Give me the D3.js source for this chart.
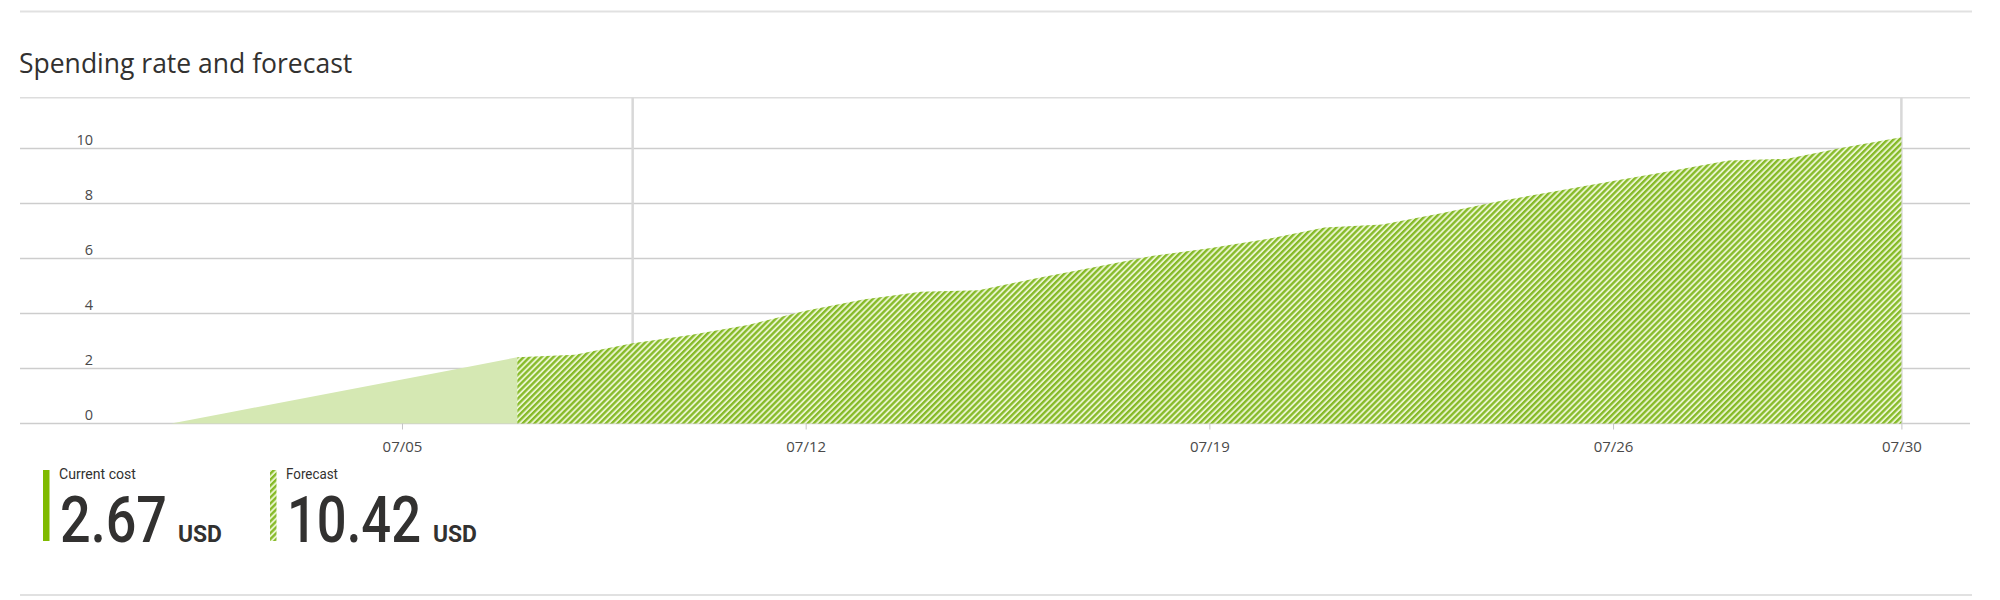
<!DOCTYPE html>
<html>
<head>
<meta charset="utf-8">
<script src="https://cdn.jsdelivr.net/npm/d3@7"></script>
<style>
  html, body { margin: 0; padding: 0; background: #ffffff; }
  svg { display: block; font-family: "Open Sans", "Noto Sans", sans-serif; }
</style>
</head>
<body>
<svg id="chart" width="2000" height="600"></svg>
<script>
// ---- data ----
const title = "Spending rate and forecast";
const currentDays = [1, 2, 3, 4, 5, 6, 7];
const currentCost = [0, 0.40, 0.80, 1.20, 1.60, 2.00, 2.41];
const forecastDays = [7, 8, 9, 10, 11, 12, 13, 14, 15, 16, 17, 18, 19, 20, 21, 22, 23, 24, 25, 26, 27, 28, 29, 30, 31];
const forecastCost = [2.41, 2.50, 2.92, 3.22, 3.58, 4.10, 4.51, 4.79, 4.85, 5.28, 5.68, 6.09, 6.37, 6.71, 7.13, 7.24, 7.64, 8.07, 8.45, 8.82, 9.18, 9.56, 9.62, 10.04, 10.41];
const yTicks = [0, 2, 4, 6, 8, 10];
const xTickDays = [5, 12, 19, 26, 31];
const xTickLabels = ["07/05", "07/12", "07/19", "07/26", "07/30"];
const markerDays = [9, 31];
const legendLabels = ["Current cost", "Forecast"];
const legendValues = ["2.67", "10.42"];
const legendUnit = "USD";

// ---- layout ----
const svg = d3.select("#chart");
const gridLeft = 20, gridRight = 1970;
const plotTop = 97.7, plotBottom = 423.5;
const x = d3.scaleLinear().domain([1, 31]).range([171.3, 1901.4]);
const y = d3.scaleLinear().domain([0, 10]).range([plotBottom, 148.5]);

const textColor = "#323130";
const labelColor = "#4a4a4a";
const gridColor = "#cdcdcd";
const green = "#7fba00";
const lightGreen = "#d5e8b3";

// hatch pattern
const defs = svg.append("defs");
const pat = defs.append("pattern")
  .attr("id", "hatch")
  .attr("patternUnits", "userSpaceOnUse")
  .attr("width", 4.2).attr("height", 10)
  .attr("patternTransform", "rotate(45)");
pat.append("rect").attr("width", 4.2).attr("height", 10).attr("fill", "#e8f4cc");
pat.append("rect").attr("width", 2.3).attr("height", 10).attr("fill", "#86ba28");

// separators
svg.append("line").attr("x1", gridLeft).attr("x2", gridRight + 2).attr("y1", 11.5).attr("y2", 11.5)
  .attr("stroke", "#e1e1e1").attr("stroke-width", 2);
svg.append("line").attr("x1", gridLeft).attr("x2", gridRight + 2).attr("y1", 595).attr("y2", 595)
  .attr("stroke", "#e1e1e1").attr("stroke-width", 2);

// title
svg.append("text").attr("x", 19).attr("y", 73).attr("font-size", 26.5)
  .attr("fill", textColor).text(title);

// top frame line
svg.append("line").attr("x1", gridLeft).attr("x2", gridRight).attr("y1", plotTop).attr("y2", plotTop)
  .attr("stroke", "#dddddd").attr("stroke-width", 1.6);

// horizontal gridlines
svg.append("g").selectAll("line").data(yTicks).join("line")
  .attr("x1", gridLeft).attr("x2", gridRight)
  .attr("y1", d => y(d)).attr("y2", d => y(d))
  .attr("stroke", gridColor).attr("stroke-width", 1.5);

// vertical marker lines
svg.append("g").selectAll("line").data(markerDays).join("line")
  .attr("x1", d => x(d)).attr("x2", d => x(d))
  .attr("y1", plotTop).attr("y2", plotBottom)
  .attr("stroke", "#d8d8d8").attr("stroke-width", 2.5);

// areas
const area = d3.area().x(d => x(d[0])).y0(y(0)).y1(d => y(d[1]));
svg.append("path")
  .datum(currentDays.map((d, i) => [d, currentCost[i]]))
  .attr("d", area).attr("fill", lightGreen);
svg.append("path")
  .datum(forecastDays.map((d, i) => [d, forecastCost[i]]))
  .attr("d", area).attr("fill", "url(#hatch)");

// y axis labels
const yAxis = d3.axisLeft(y).tickValues(yTicks).tickSize(0).tickPadding(0);
const gy = svg.append("g").attr("transform", "translate(93,0)").call(yAxis);
gy.select(".domain").remove();
gy.selectAll("text").attr("dy", "-4px").attr("font-size", 14.5)
  .attr("font-family", "'Open Sans', sans-serif").attr("fill", labelColor);

// x axis
const xAxis = d3.axisBottom(x).tickValues(xTickDays)
  .tickFormat((d, i) => xTickLabels[i]).tickSize(6).tickPadding(12);
const gx = svg.append("g").attr("transform", `translate(0,${plotBottom})`).call(xAxis);
gx.select(".domain").remove();
gx.selectAll(".tick line").attr("stroke", "#c4c4c4").attr("stroke-width", 1);
gx.selectAll("text").attr("font-size", 15)
  .attr("font-family", "'Open Sans', sans-serif").attr("fill", labelColor);

// legend: text condensed horizontally to the reference widths
function fitText(sel, tx, ty, target) {
  sel.each(function () {
    const t = d3.select(this);
    const w = this.getComputedTextLength();
    const s = target / w;
    t.attr("transform", `translate(${tx},${ty}) scale(${s},1)`);
  });
}
const legend = [
  { bx: 43, fill: green, label: legendLabels[0], labelLen: 77, value: legendValues[0], valueLen: 107, unitX: 178 },
  { bx: 270, fill: "url(#hatch)", label: legendLabels[1], labelLen: 52, value: legendValues[1], valueLen: 134, unitX: 433 }
];
legend.forEach(d => {
  const g = svg.append("g");
  g.append("rect").attr("x", d.bx).attr("y", 470).attr("width", 6.5).attr("height", 71)
    .attr("fill", d.fill);
  g.append("text").attr("font-size", 15.5).attr("fill", textColor)
    .attr("font-family", "Roboto, sans-serif")
    .text(d.label).call(fitText, d.bx + 16, 478.5, d.labelLen);
  g.append("text").attr("font-size", 64).attr("font-weight", 500).attr("fill", textColor)
    .attr("font-family", "Roboto, sans-serif")
    .text(d.value).call(fitText, d.bx + 17, 542, d.valueLen);
  g.append("text").attr("font-size", 24).attr("font-weight", 700).attr("fill", textColor)
    .attr("font-family", "Roboto, sans-serif")
    .text(legendUnit).call(fitText, d.unitX, 542, 44);
});
</script>
</body>
</html>
